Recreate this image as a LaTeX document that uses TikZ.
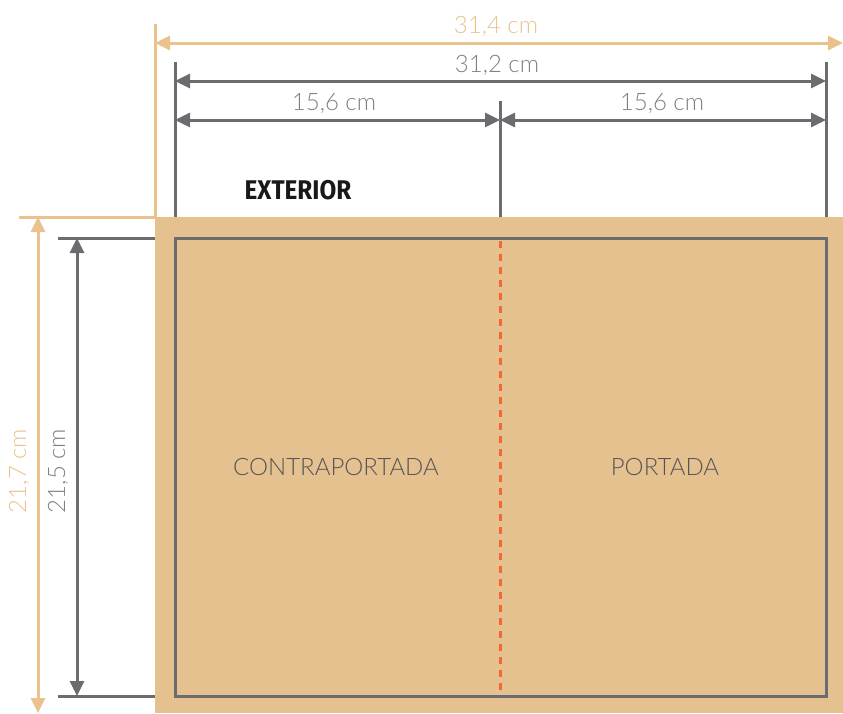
\documentclass[tikz,border=0pt]{standalone}
\usepackage{fontspec}
\setmainfont{Lato}[UprightFont=* Light]
\newfontfamily\boldfont{Fira Sans}
\usetikzlibrary{arrows.meta}
\definecolor{tan}{RGB}{230,193,144}
\definecolor{sand}{RGB}{233,194,142}
\definecolor{slate}{RGB}{108,108,112}
\definecolor{fold}{RGB}{242,104,50}
\definecolor{labelgray}{RGB}{128,128,131}
\definecolor{ink}{RGB}{85,85,88}

\begin{document}
\begin{tikzpicture}[x=1pt,y=-1pt,
  dimgray/.style={draw=slate,line width=3pt,{Triangle[length=15pt,width=14pt]}-{Triangle[length=15pt,width=14pt]}},
  dimsand/.style={draw=sand,line width=3pt,{Triangle[length=15pt,width=14pt]}-{Triangle[length=15pt,width=14pt]}},
  extgray/.style={draw=slate,line width=3pt},
  extsand/.style={draw=sand,line width=3pt},
  lbl/.style={font=\fontsize{24}{24}\selectfont,text=labelgray,inner sep=0pt},
  lblsand/.style={font=\fontsize{24}{24}\selectfont,text=sand,inner sep=0pt}]
\useasboundingbox (0,0) rectangle (843,713);
% cover
\fill [tan] (155,217) rectangle (843,713);
\draw [slate,line width=3pt] (175,238) rectangle (826,696);
\coordinate (ftop) at (500,241);
\coordinate (fbot) at (500,696);
\draw [fold,line width=3pt,dash pattern=on 7pt off 6pt] (ftop) -- (fbot);
\node [font=\fontsize{24}{24}\selectfont,text=ink] (back) at (336,467) {CONTRAPORTADA};
\node [font=\fontsize{24}{24}\selectfont,text=ink] (front) at (665,467) {PORTADA};
\node [font=\boldfont\bfseries\fontsize{27}{27}\selectfont,text=black!90,anchor=base,inner sep=0pt] (ext) at (298,199) {\scalebox{0.9}[1]{EXTERIOR}};
% extension lines
\coordinate (wl) at (155,24);   \coordinate (wlb) at (155,217);
\coordinate (gl) at (175,62);   \coordinate (glb) at (175,217);
\coordinate (gr) at (826,62);   \coordinate (grb) at (826,217);
\coordinate (gm) at (500,101);  \coordinate (gmb) at (500,217);
\coordinate (ht) at (19,217);   \coordinate (htb) at (155,217);
\coordinate (it) at (58,238);   \coordinate (itb) at (155,238);
\coordinate (ib) at (58,696);   \coordinate (ibb) at (155,696);
\draw [extsand] (wl) -- (wlb);
\draw [extsand] (ht) -- (htb);
\draw [extgray] (gl) -- (glb);
\draw [extgray] (gr) -- (grb);
\draw [extgray] (gm) -- (gmb);
\draw [extgray] (it) -- (itb);
\draw [extgray] (ib) -- (ibb);
% dimensions
\coordinate (a1) at (155,43);  \coordinate (a2) at (843,43);
\coordinate (b1) at (175,81);  \coordinate (b2) at (826,81);
\coordinate (c1) at (175,120); \coordinate (c2) at (500,120); \coordinate (c3) at (826,120);
\coordinate (v1) at (38,217);  \coordinate (v2) at (38,713);
\coordinate (u1) at (77,238);  \coordinate (u2) at (77,696);
\draw [dimsand] (a1) -- (a2);
\draw [dimgray] (b1) -- (b2);
\draw [dimgray] (c1) -- (c2);
\draw [dimgray] (c2) -- (c3);
\draw [dimsand] (v1) -- (v2);
\draw [dimgray] (u1) -- (u2);
\node [lblsand,anchor=base] (wlabel) at (496,33) {31,4 cm};
\node [lbl,anchor=base] (glabel) at (497,72) {31,2 cm};
\node [lbl,anchor=base] (hlabel) at (334,110) {15,6 cm};
\node [lbl,anchor=base] (hlabel2) at (662,110) {15,6 cm};
\node [lblsand,rotate=90] (vlabel) at (19,471) {21,7 cm};
\node [lbl,rotate=90] (ulabel) at (58,471) {21,5 cm};
\end{tikzpicture}
\end{document}
